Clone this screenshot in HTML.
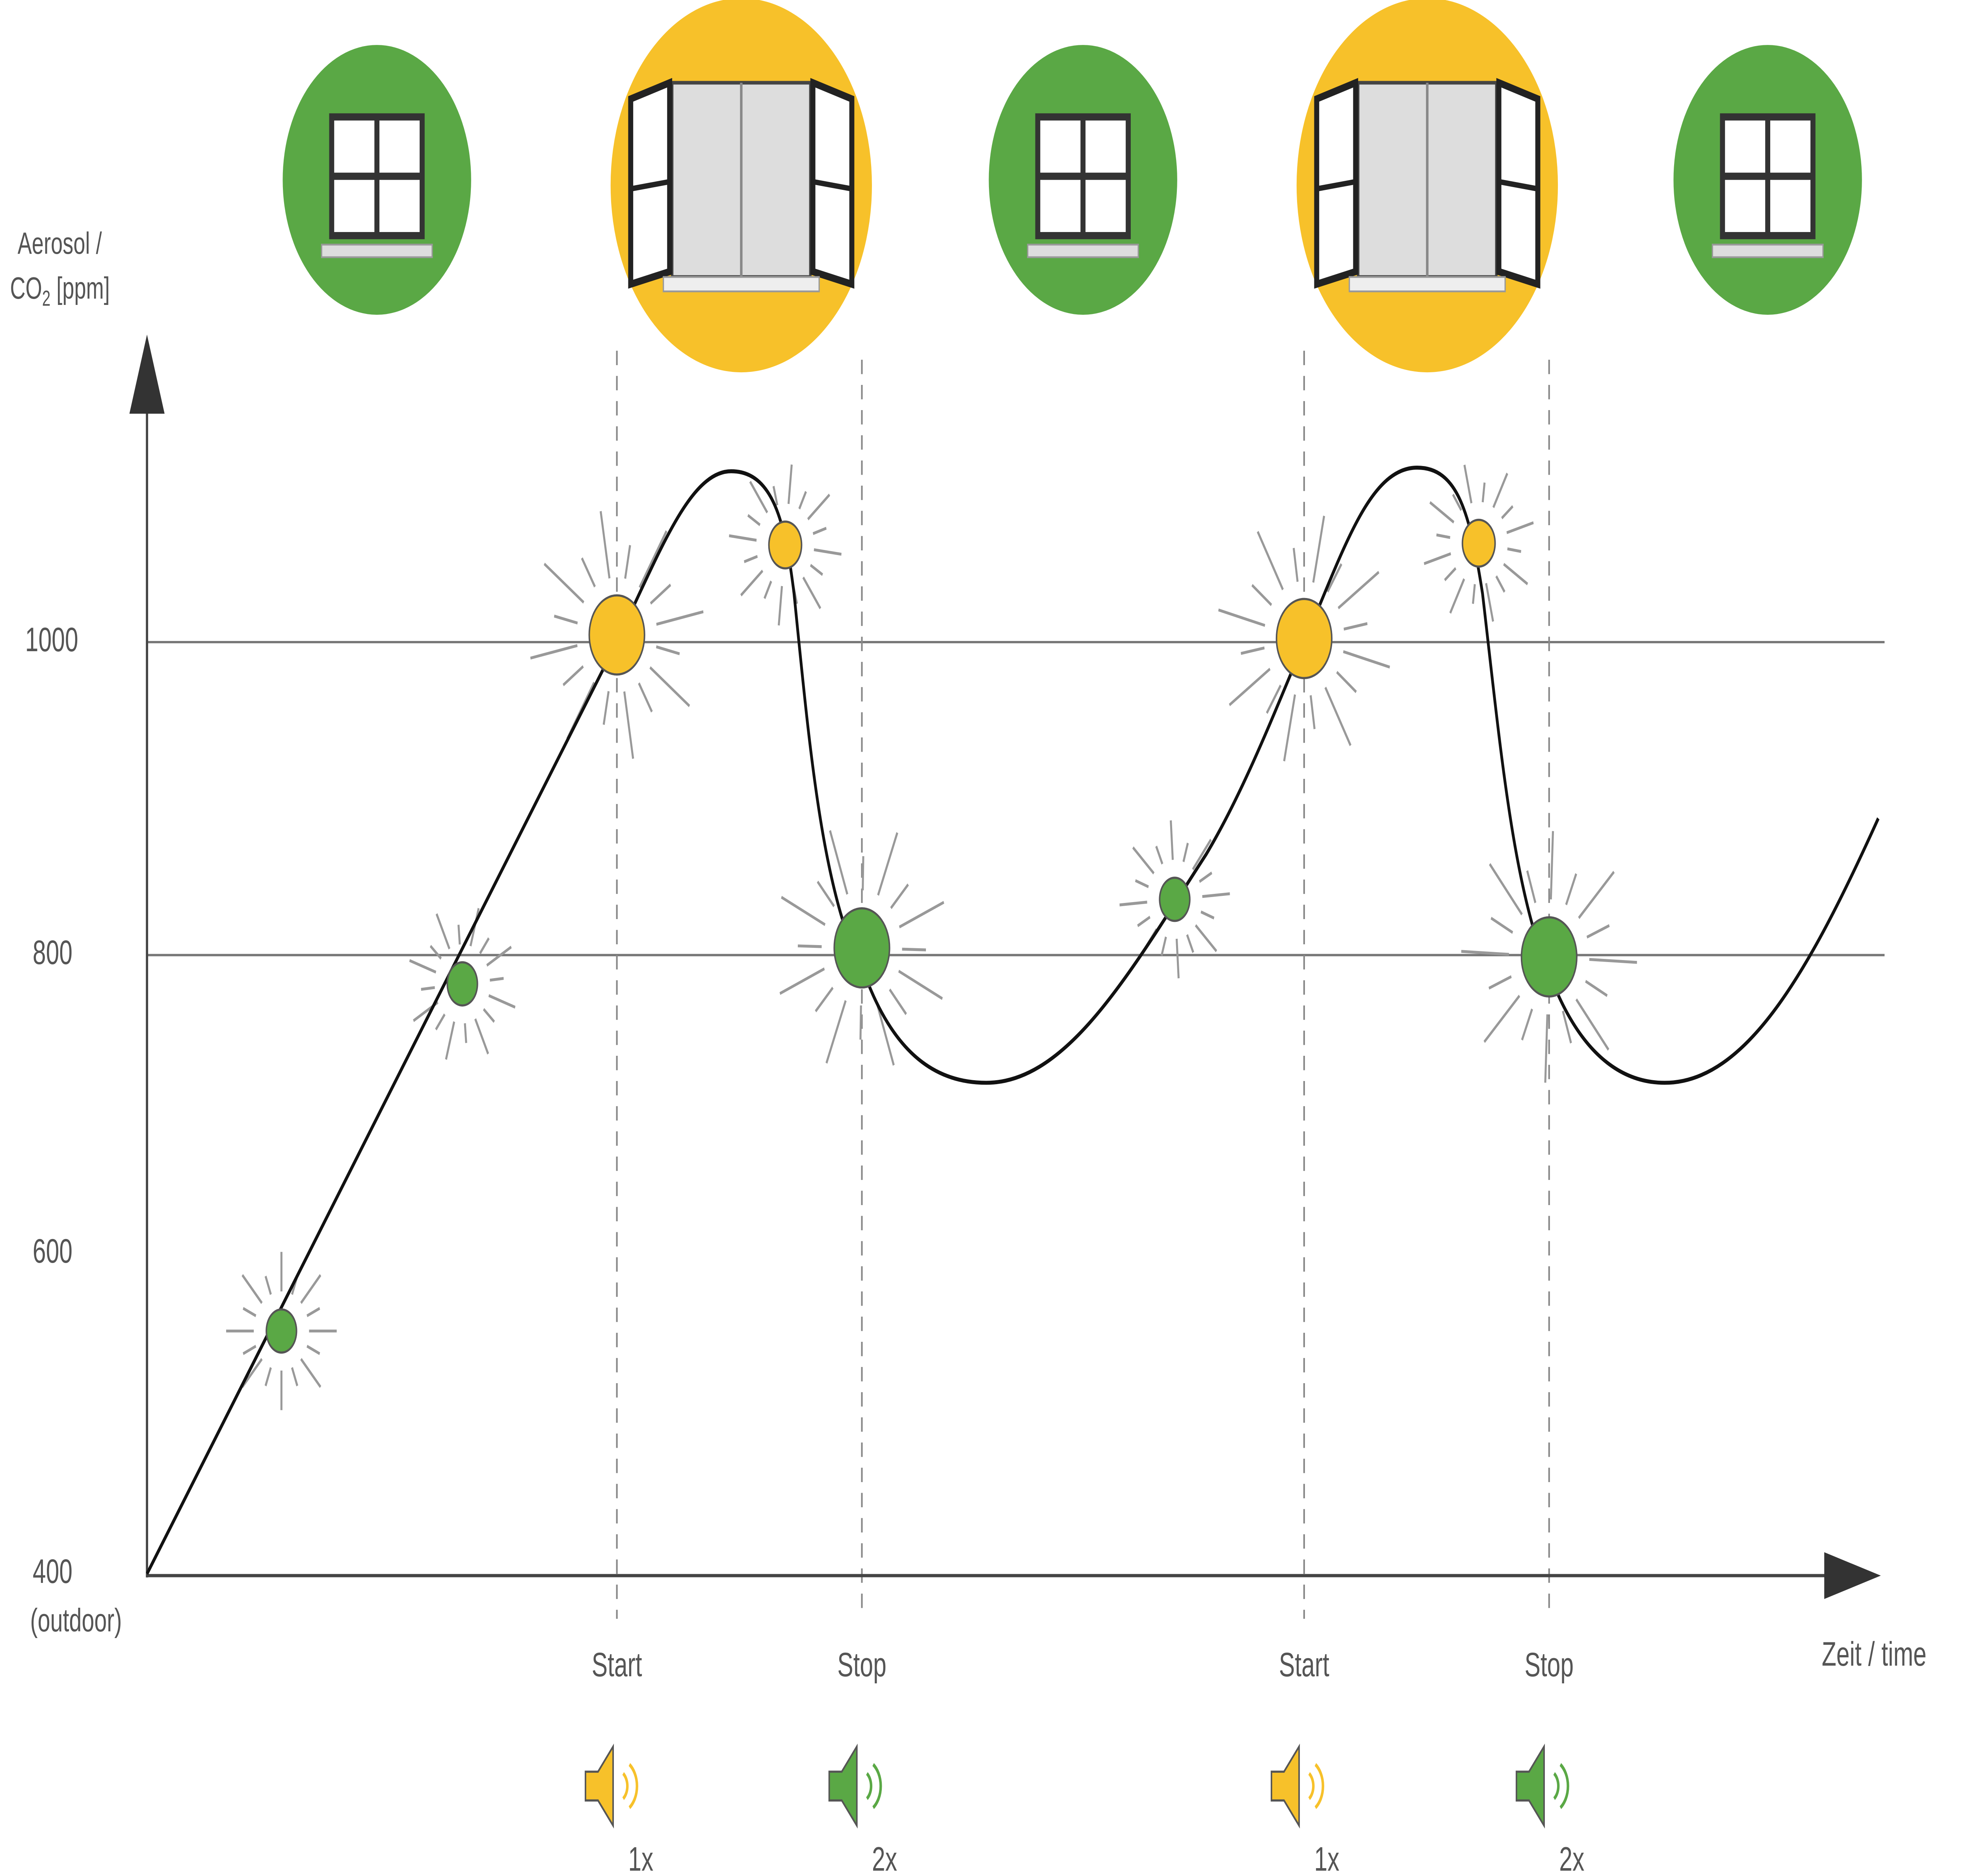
<!DOCTYPE html>
<html><head><meta charset="utf-8">
<style>
html,body{margin:0;padding:0;background:#fff;overflow:hidden;width:100vw;height:100vh;}
svg{display:block;width:100vw;height:100vh;}
text{font-family:"Liberation Sans",sans-serif;fill:#555;}
</style></head>
<body>
<svg id="s" viewBox="0 0 1568 1043" preserveAspectRatio="none" xmlns="http://www.w3.org/2000/svg">
<rect width="1568" height="1043" fill="#fff"/>
<line x1="117" y1="357" x2="1500" y2="357" stroke="#777" stroke-width="1.3"/>
<line x1="117" y1="531" x2="1500" y2="531" stroke="#777" stroke-width="1.3"/>
<g stroke="#888" stroke-width="1.3" stroke-dasharray="8,6">
<line x1="491" y1="195" x2="491" y2="900"/>
<line x1="686" y1="200" x2="686" y2="900"/>
<line x1="1038" y1="195" x2="1038" y2="900"/>
<line x1="1233" y1="200" x2="1233" y2="900"/>
</g>
<line x1="117" y1="228" x2="117" y2="877" stroke="#444" stroke-width="1.8"/>
<polygon points="103,230 131,230 117,186" fill="#333"/>
<line x1="117" y1="876" x2="1455" y2="876" stroke="#444" stroke-width="1.8"/>
<polygon points="1452,863 1452,889 1497,876" fill="#333"/>
<text x="14" y="141" font-size="17">Aerosol /</text>
<text x="8" y="166" font-size="17">CO<tspan font-size="12" dy="4">2</tspan><tspan dy="-4"> [ppm]</tspan></text>
<text x="20" y="362" font-size="19">1000</text>
<text x="26" y="536" font-size="19">800</text>
<text x="26" y="702" font-size="19">600</text>
<text x="26" y="880" font-size="19">400</text>
<text x="24" y="907" font-size="18">(outdoor)</text>
<text x="1450" y="926" font-size="19">Zeit / time</text>
<text x="491" y="932" font-size="19" text-anchor="middle">Start</text>
<text x="686" y="932" font-size="19" text-anchor="middle">Stop</text>
<text x="1038" y="932" font-size="19" text-anchor="middle">Start</text>
<text x="1233" y="932" font-size="19" text-anchor="middle">Stop</text>
<text x="500" y="1040" font-size="19">1x</text>
<text x="694" y="1040" font-size="19">2x</text>
<text x="1046" y="1040" font-size="19">1x</text>
<text x="1241" y="1040" font-size="19">2x</text>
<g id="rays" stroke="#999" stroke-width="1.6"></g>
<path d="M117,875 L478,375 C520,318 545,262 582,262 C615,262 625,290 632,330 C645,420 655,500 690,545 C715,590 750,602 785,602 C850,602 900,540 960,475 C990,440 1015,395 1038,357 C1070,305 1090,260 1128,260 C1160,260 1170,285 1180,330 C1195,420 1205,500 1237,548 C1262,590 1295,602 1325,602 C1390,602 1440,540 1495,455" fill="none" stroke="#111" stroke-width="2.2"/>
<g id="dots" stroke="#555" stroke-width="1.2"></g>
<g id="icons"></g>
</svg>
<script>
var NS="http://www.w3.org/2000/svg";
function el(p,t,a){var e=document.createElementNS(NS,t);for(var k in a)e.setAttribute(k,a[k]);p.appendChild(e);return e;}
var G="#5aa845",Y="#f7c12a";
var dots=[[224,740,12,G],[368,547,12,G],[491,353,22,Y],[625,303,13,Y],[686,527,22,G],[935,500,12,G],[1038,355,22,Y],[1177,302,13,Y],[1233,532,22,G]];
var rays=document.getElementById('rays'),dg=document.getElementById('dots');
dots.forEach(function(d,i){
 var n=16,r0=d[2]+10,big=d[2]>15;
 for(var j=0;j<n;j++){var a=j*2*Math.PI/n+i*0.3;var l=(j%2?0.5:1)*(big?38:22);
  el(rays,'line',{x1:d[0]+Math.cos(a)*r0,y1:d[1]+Math.sin(a)*r0,x2:d[0]+Math.cos(a)*(r0+l),y2:d[1]+Math.sin(a)*(r0+l)});}
 el(dg,'circle',{cx:d[0],cy:d[1],r:d[2],fill:d[3]});
});
var ic=document.getElementById('icons');
function closedWin(cx,cy){
 el(ic,'circle',{cx:cx,cy:cy,r:75,fill:G});
 el(ic,'rect',{x:cx-36,y:cy-35,width:72,height:66,fill:"#fff",stroke:"#333","stroke-width":4});
 el(ic,'line',{x1:cx,y1:cy-35,x2:cx,y2:cy+31,stroke:"#333","stroke-width":4});
 el(ic,'line',{x1:cx-36,y1:cy-2,x2:cx+36,y2:cy-2,stroke:"#333","stroke-width":4});
 el(ic,'rect',{x:cx-44,y:cy+36,width:88,height:7,fill:"#ddd",stroke:"#999","stroke-width":1});
}
function openWin(cx,cy){
 el(ic,'circle',{cx:cx,cy:cy,r:104,fill:Y});
 el(ic,'rect',{x:cx-55,y:cy-57,width:110,height:108,fill:"#ddd",stroke:"#444","stroke-width":2});
 el(ic,'line',{x1:cx,y1:cy-57,x2:cx,y2:cy+51,stroke:"#888","stroke-width":2});
 el(ic,'polygon',{points:(cx-57)+","+(cy-57)+" "+(cx-88)+","+(cy-48)+" "+(cx-88)+","+(cy+55)+" "+(cx-57)+","+(cy+48),fill:"#fff",stroke:"#222","stroke-width":4});
 el(ic,'line',{x1:cx-88,y1:cy+2,x2:cx-57,y2:cy-2,stroke:"#222","stroke-width":3});
 el(ic,'polygon',{points:(cx+57)+","+(cy-57)+" "+(cx+88)+","+(cy-48)+" "+(cx+88)+","+(cy+55)+" "+(cx+57)+","+(cy+48),fill:"#fff",stroke:"#222","stroke-width":4});
 el(ic,'line',{x1:cx+88,y1:cy+2,x2:cx+57,y2:cy-2,stroke:"#222","stroke-width":3});
 el(ic,'rect',{x:cx-62,y:cy+51,width:124,height:8,fill:"#eee",stroke:"#999","stroke-width":1});
}
closedWin(300,100);openWin(590,103);closedWin(862,100);openWin(1136,103);closedWin(1407,100);
function spk(cx,cy,c){
 el(ic,'polygon',{points:(cx-26)+","+(cy-8)+" "+(cx-16)+","+(cy-8)+" "+(cx-4)+","+(cy-22)+" "+(cx-4)+","+(cy+22)+" "+(cx-16)+","+(cy+8)+" "+(cx-26)+","+(cy+8),fill:c,stroke:"#555","stroke-width":1.2});
 el(ic,'path',{d:"M"+(cx+4)+","+(cy-7)+" A9,9 0 0 1 "+(cx+4)+","+(cy+7),fill:"none",stroke:c,"stroke-width":2});
 el(ic,'path',{d:"M"+(cx+9)+","+(cy-12)+" A15,15 0 0 1 "+(cx+9)+","+(cy+12),fill:"none",stroke:c,"stroke-width":2});
}
spk(492,993,Y);spk(686,993,G);spk(1038,993,Y);spk(1233,993,G);
</script>
</body></html>
